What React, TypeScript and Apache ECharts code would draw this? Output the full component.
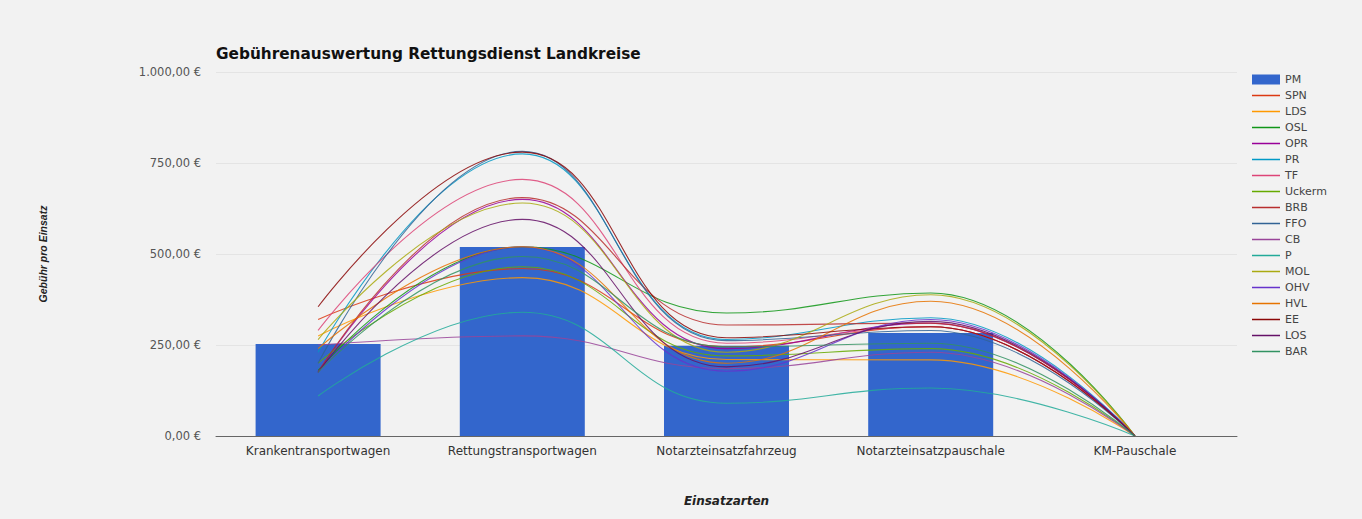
import React, { useEffect, useRef } from "react";
import * as echarts from "echarts";

const categories = [
  "Krankentransportwagen",
  "Rettungstransportwagen",
  "Notarzteinsatzfahrzeug",
  "Notarzteinsatzpauschale",
  "KM-Pauschale",
];

const yTicks = [0, 250, 500, 750, 1000];

const pmValues = [253, 519, 248, 283, 0];

const lineNames = ["SPN", "LDS", "OSL", "OPR", "PR", "TF", "Uckerm", "BRB", "FFO", "CB", "P", "MOL", "OHV", "HVL", "EE", "LOS", "BAR"];

const spn = [320, 460, 245, 300, 0];
const lds = [275, 435, 210, 209, 0];
const osl = [180, 520, 338, 393, 0];
const opr = [175, 650, 240, 310, 0];
const pr = [230, 775, 265, 325, 0];
const tf = [290, 705, 255, 300, 0];
const uckerm = [200, 465, 220, 240, 0];
const brb = [175, 655, 305, 310, 0];
const ffo = [200, 782, 262, 290, 0];
const cb = [250, 275, 185, 230, 0];
const p = [110, 340, 90, 132, 0];
const mol = [265, 640, 230, 388, 0];
const ohv = [175, 520, 178, 320, 0];
const hvl = [240, 520, 200, 370, 0];
const ee = [355, 780, 270, 300, 0];
const los = [175, 595, 190, 315, 0];
const bar = [175, 493, 245, 255, 0];

const lineValues = [spn, lds, osl, opr, pr, tf, uckerm, brb, ffo, cb, p, mol, ohv, hvl, ee, los, bar];

const barColor = "#3366cc";
const lineColors = [
  "#dc3912", "#ff9900", "#109618", "#990099", "#0099c6", "#dd4477", "#66aa00",
  "#b82e2e", "#316395", "#994499", "#22aa99", "#aaaa11", "#6633cc", "#e67300", "#8b0707",
  "#651067", "#329262",
];

const fmt = (v: number) => {
  const s = v.toFixed(2).split(".");
  const intPart = s[0].replace(/\B(?=(\d{3})+(?!\d))/g, ".");
  return intPart + "," + s[1] + " €";
};

const lineIcon = "path://M0,0L0.1,0M0,4.2L28,4.2L28,5.8L0,5.8ZM27.9,10L28,10";

export default function App() {
  const ref = useRef<HTMLDivElement>(null);
  useEffect(() => {
    document.body.style.margin = "0";
    document.body.style.background = "#f2f2f2";
    const chart = echarts.init(ref.current!, null, { renderer: "svg" });
    const font = "'DejaVu Sans', sans-serif";
    chart.setOption({
      animation: false,
      backgroundColor: "#f2f2f2",
      textStyle: { fontFamily: font },
      title: {
        text: "Gebührenauswertung Rettungsdienst Landkreise",
        left: 211,
        top: 41,
        textStyle: { fontSize: 15.3, fontWeight: "bold", color: "#111", fontFamily: font },
      },
      legend: {
        orient: "vertical",
        left: 1247,
        top: 69,
        itemWidth: 28,
        itemHeight: 10,
        itemGap: 5,
        textStyle: { fontSize: 11, lineHeight: 10, color: "#444", fontFamily: font },
        data: [
          { name: "PM", icon: "rect" },
          ...lineNames.map((n) => ({ name: n, icon: lineIcon })),
        ],
      },
      grid: { left: 216, right: 125, top: 72, bottom: 83, containLabel: false },
      xAxis: {
        type: "category",
        data: categories,
        name: "Einsatzarten",
        nameLocation: "middle",
        nameGap: 59,
        nameTextStyle: { fontSize: 12, fontWeight: "bold", fontStyle: "italic", color: "#222", fontFamily: font },
        axisLine: { lineStyle: { color: "#666" } },
        axisTick: { show: false },
        axisLabel: { fontSize: 12, color: "#333", margin: 9 },
      },
      yAxis: {
        type: "value",
        min: yTicks[0],
        max: yTicks[yTicks.length - 1],
        interval: 250,
        name: "Gebühr pro Einsatz",
        nameLocation: "middle",
        nameGap: 168,
        nameRotate: 90,
        nameTextStyle: {
          fontSize: 10.5,
          fontWeight: "bold",
          fontStyle: "italic",
          color: "#222",
          fontFamily: "'Liberation Sans', Arial, sans-serif",
        },
        axisLine: { show: false },
        axisTick: { show: false },
        splitLine: { lineStyle: { color: "#e4e4e4" } },
        axisLabel: { fontSize: 11.5, color: "#555", margin: 15, formatter: (v: number) => fmt(v) },
      },
      series: [
        {
          name: "PM",
          type: "bar",
          data: pmValues,
          barWidth: 125,
          itemStyle: { color: barColor },
        },
        ...lineNames.map((n, i) => ({
          name: n,
          type: "line",
          data: lineValues[i],
          smooth: 0.45,
          symbol: "none",
          itemStyle: { color: lineColors[i] },
          lineStyle: { width: 1.1, opacity: 0.85, color: lineColors[i] },
        })),
      ],
    });
    return () => chart.dispose();
  }, []);
  return <div ref={ref} style={{ width: 1362, height: 519 }} />;
}
